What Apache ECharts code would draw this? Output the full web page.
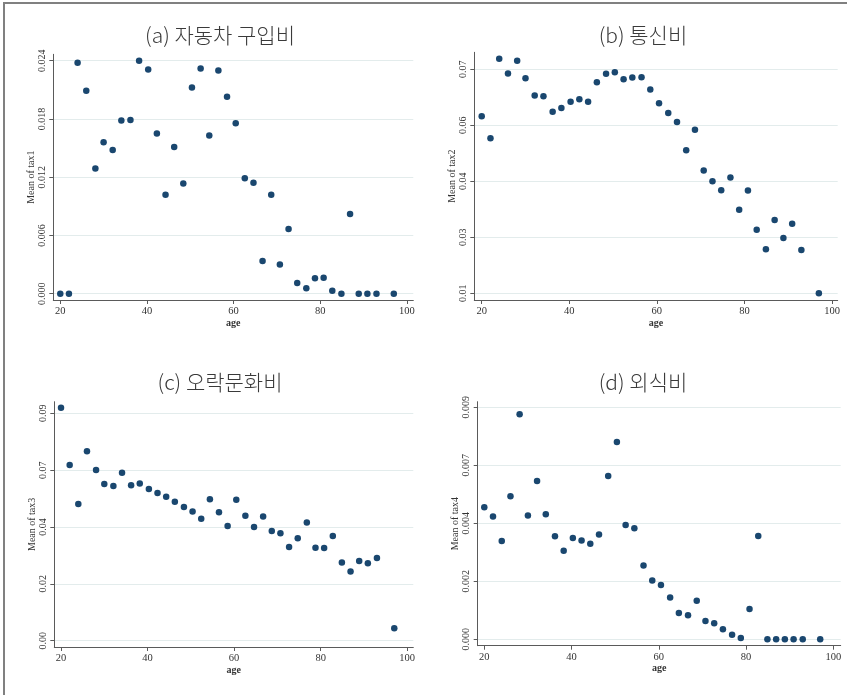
<!DOCTYPE html>
<html>
<head>
<meta charset="utf-8">
<script src="https://cdn.jsdelivr.net/npm/echarts@6/dist/echarts.min.js"></script>
<style>
  html, body { margin: 0; padding: 0; background: #fff; }
  #chart { width: 847px; height: 695px; }
</style>
</head>
<body>
<div id="chart"></div>
<script>
// Age groups shared by all four panels
const ages = [20, 22, 24, 26, 28.1, 30, 32.1, 34.1, 36.2, 38.2, 40.3, 42.3, 44.3, 46.3, 48.4,
  50.4, 52.4, 54.4, 56.5, 58.5, 60.5, 62.6, 64.6, 66.7, 68.7, 70.7, 72.7, 74.7, 76.8, 78.8,
  80.8, 82.8, 84.9, 86.9, 88.9, 90.9, 93, 97];

// Mean of tax1 .. tax4 by age
const tax1 = [0, 0, 0.0238, 0.0209, 0.0129, 0.0156, 0.0148, 0.01785, 0.0179, 0.0240, 0.0231,
  0.0165, 0.0102, 0.0151, 0.01136, 0.02125, 0.0232, 0.0163, 0.0230, 0.0203, 0.01755, 0.0119,
  0.01143, 0.00336, 0.0102, 0.0030, 0.00666, 0.0011, 0.00055, 0.0016, 0.00165, 0.00031, 0,
  0.0082, 0, 0, 0, 0];
const tax2 = [0.0574, 0.0515, 0.0728, 0.0689, 0.0723, 0.0676, 0.0630, 0.0628, 0.0586, 0.0596,
  0.0613, 0.0620, 0.0613, 0.0665, 0.0688, 0.0692, 0.0673, 0.0678, 0.0679, 0.0646, 0.0609,
  0.0583, 0.0559, 0.0483, 0.0538, 0.0429, 0.0400, 0.0376, 0.0410, 0.0324, 0.0375, 0.0270,
  0.0218, 0.0296, 0.0248, 0.0286, 0.0216, 0.0100];
const tax3 = [0.0922, 0.0695, 0.0541, 0.0750, 0.0676, 0.0620, 0.0612, 0.0665, 0.0615, 0.0622,
  0.0600, 0.0585, 0.0570, 0.0550, 0.0529, 0.0511, 0.0483, 0.0560, 0.0508, 0.0454, 0.0558,
  0.0495, 0.0450, 0.0492, 0.0434, 0.0425, 0.0371, 0.0405, 0.0468, 0.0368, 0.0367, 0.0414,
  0.0309, 0.0274, 0.0315, 0.0307, 0.0327, 0.0049];
const tax4 = [0.00512, 0.00477, 0.00381, 0.00555, 0.00873, 0.00480, 0.00614, 0.00485, 0.00400,
  0.00344, 0.00393, 0.00383, 0.00371, 0.00407, 0.00634, 0.00766, 0.00444, 0.00431, 0.00286,
  0.00228, 0.00211, 0.00162, 0.00102, 0.00093, 0.00150, 0.00071, 0.00062, 0.00039, 0.00018,
  0.00005, 0.00118, 0.00401, 0, 0, 0, 0, 0, 0];

// Axis ticks and their printed labels
const ageTicks = [20, 40, 60, 80, 100];
const tax1Ticks = [0, 0.006, 0.012, 0.018, 0.024];
const tax1Labels = ['0.000', '0.006', '0.012', '0.018', '0.024'];
const tax2Ticks = [0.01, 0.025, 0.04, 0.055, 0.07];
const tax2Labels = ['0.01', '0.03', '0.04', '0.06', '0.07'];
const tax3Ticks = [0, 0.0225, 0.045, 0.0675, 0.09];
const tax3Labels = ['0.00', '0.02', '0.04', '0.07', '0.09'];
const tax4Ticks = [0, 0.00225, 0.0045, 0.00675, 0.009];
const tax4Labels = ['0.000', '0.002', '0.004', '0.007', '0.009'];

const panelTitles = ['(a) 자동차 구입비', '(b) 통신비', '(c) 오락문화비', '(d) 외식비'];
const yNames = ['Mean of tax1', 'Mean of tax2', 'Mean of tax3', 'Mean of tax4'];

const panels = [
  { y: tax1, ticks: tax1Ticks, labels: tax1Labels,
    grid: { left: 53.3, top: 54.3, width: 360, height: 245.7 },
    xr: [18.39, 101.5], yr: [-0.00065, 0.02466], title: [215, 30] },
  { y: tax2, ticks: tax2Ticks, labels: tax2Labels,
    grid: { left: 474.3, top: 52.3, width: 363.4, height: 247.7 },
    xr: [18.31, 101.3], yr: [0.0082, 0.07455], title: [638, 30] },
  { y: tax3, ticks: tax3Ticks, labels: tax3Labels,
    grid: { left: 54.3, top: 401.7, width: 359, height: 245.3 },
    xr: [18.45, 101.4], yr: [-0.0025, 0.0946], title: [215, 377] },
  { y: tax4, ticks: tax4Ticks, labels: tax4Labels,
    grid: { left: 477.7, top: 401.7, width: 363, height: 244 },
    xr: [18.49, 101.7], yr: [-0.000248, 0.00922], title: [638, 377] }
];

const serif = '"Liberation Serif", "DejaVu Serif", serif';
const axisColor = '#5a5a5a';
const textColor = '#333';

const option = {
  animation: false,
  backgroundColor: '#fff',
  title: panels.map((p, i) => ({
    text: panelTitles[i],
    left: p.title[0],
    top: p.title[1],
    textAlign: 'center',
    textVerticalAlign: 'middle',
    textStyle: {
      fontFamily: '"Noto Sans CJK KR", "Noto Sans", sans-serif',
      fontSize: 21,
      fontWeight: 300,
      color: '#3a3a3a'
    }
  })),
  grid: panels.map(p => Object.assign({ containLabel: false, outerBoundsMode: 'none' }, p.grid)),
  xAxis: panels.map((p, i) => ({
    type: 'value',
    gridIndex: i,
    min: p.xr[0],
    max: p.xr[1],
    name: 'age',
    nameLocation: 'middle',
    nameGap: 18,
    nameTextStyle: { fontFamily: serif, fontSize: 10, color: textColor, fontWeight: 'bold' },
    axisLine: { show: true, onZero: false, lineStyle: { color: axisColor, width: 1 } },
    axisTick: { show: true, length: 4, customValues: ageTicks, lineStyle: { color: axisColor } },
    axisLabel: { customValues: ageTicks, fontFamily: serif, fontSize: 10.5, color: textColor, margin: 6 },
    splitLine: { show: false }
  })),
  yAxis: panels.map((p, i) => ({
    type: 'value',
    gridIndex: i,
    min: p.yr[0],
    max: p.yr[1],
    name: yNames[i],
    nameLocation: 'middle',
    nameGap: 17,
    nameTextStyle: { fontFamily: serif, fontSize: 10, color: textColor },
    axisLine: { show: true, onZero: false, lineStyle: { color: axisColor, width: 1 } },
    axisTick: { show: true, length: 4, customValues: p.ticks, lineStyle: { color: axisColor } },
    axisLabel: {
      customValues: p.ticks,
      rotate: 90,
      margin: 6,
      fontFamily: serif,
      fontSize: 10,
      color: textColor,
      formatter: v => {
        const k = p.ticks.indexOf(v);
        return k >= 0 ? p.labels[k] : '';
      }
    },
    splitLine: { show: true, lineStyle: { color: '#e3ecec', width: 1 } }
  })),
  series: panels.map((p, i) => ({
    type: 'scatter',
    xAxisIndex: i,
    yAxisIndex: i,
    symbol: 'circle',
    symbolSize: 6.5,
    itemStyle: { color: '#1a476f', opacity: 1 },
    data: ages.map((a, k) => [a, p.y[k]])
  })),
  graphic: [
    { type: 'line', shape: { x1: 3, y1: 3, x2: 847, y2: 3 }, style: { stroke: '#808080', lineWidth: 2 } },
    { type: 'line', shape: { x1: 4, y1: 2, x2: 4, y2: 695 }, style: { stroke: '#808080', lineWidth: 2 } }
  ]
};

const chart = echarts.init(document.getElementById('chart'), null, { renderer: 'canvas' });
chart.setOption(option);
</script>
</body>
</html>
